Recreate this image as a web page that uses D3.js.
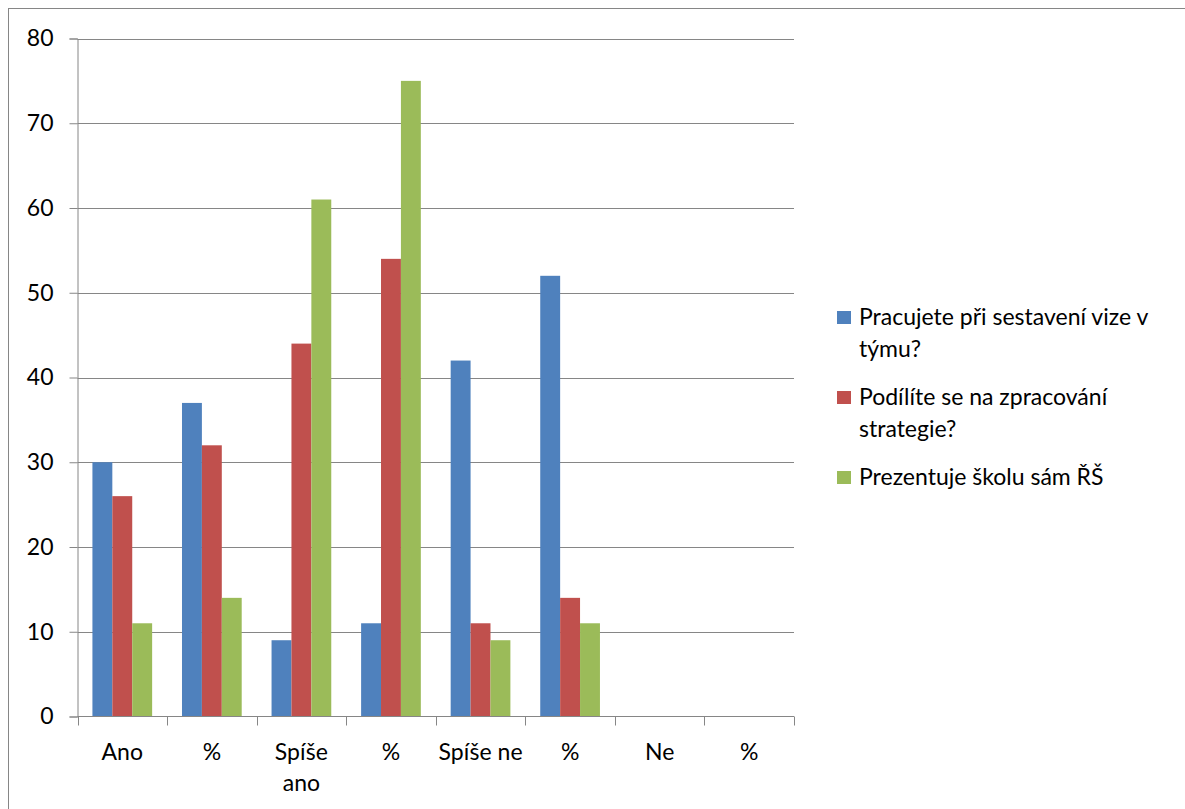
<!DOCTYPE html>
<html>
<head>
<meta charset="utf-8">
<script src="https://cdn.jsdelivr.net/npm/d3@7"></script>
<style>
  html, body { margin: 0; padding: 0; background: #fff; }
  svg text { font-family: Lato, "Open Sans", sans-serif; fill: #000; }
</style>
</head>
<body>
<svg id="chart" width="1185" height="809"></svg>
<script>
// Answer categories along the x axis
const categories = ["Ano", "%", "Spíše ano", "%", "Spíše ne", "%", "Ne", "%"];

// Series names (legend)
const seriesNames = [
  "Pracujete při sestavení vize v týmu?",
  "Podílíte se na zpracování strategie?",
  "Prezentuje školu sám ŘŠ"
];

// Values for each series, one per category
const vizeValues      = [30, 37, 9, 11, 42, 52, 0, 0];
const strategieValues = [26, 32, 44, 54, 11, 14, 0, 0];
const prezentujeValues = [11, 14, 61, 75, 9, 11, 0, 0];

const yTicks = [0, 10, 20, 30, 40, 50, 60, 70, 80];

const seriesValues = [vizeValues, strategieValues, prezentujeValues];
const colors = ["#4F81BD", "#C0504D", "#9BBB59"];

const FONT = 23;

const svg = d3.select("#chart");
const W = 1185, H = 809;

// Outer chart frame
svg.append("rect")
  .attr("x", 8.5).attr("y", 8.5)
  .attr("width", W).attr("height", H)
  .attr("fill", "#fff").attr("stroke", "#868686").attr("stroke-width", 1);

const plot = { left: 77.5, right: 794, top: 38.5, bottom: 716.5 };

const x0 = d3.scaleBand()
  .domain(d3.range(categories.length))
  .range([plot.left, plot.right])
  .paddingInner(0).paddingOuter(0);

const x1 = d3.scaleBand()
  .domain(d3.range(seriesValues.length))
  .range([0, x0.bandwidth()])
  .paddingInner(0)
  .paddingOuter(0.75);

const y = d3.scaleLinear().domain([0, 80]).range([plot.bottom, plot.top]);

// Horizontal gridlines
svg.append("g")
  .selectAll("line")
  .data(yTicks.filter(t => t > 0))
  .join("line")
  .attr("x1", plot.left).attr("x2", plot.right)
  .attr("y1", d => Math.round(y(d)) + 0.5).attr("y2", d => Math.round(y(d)) + 0.5)
  .attr("stroke", "#868686").attr("stroke-width", 1);

// Bars
const groups = svg.append("g")
  .selectAll("g")
  .data(categories.map((c, i) => i))
  .join("g")
  .attr("transform", i => `translate(${x0(i)},0)`);

groups.selectAll("rect")
  .data(i => seriesValues.map((vals, s) => ({ s, v: vals[i] })))
  .join("rect")
  .attr("x", d => x1(d.s))
  .attr("width", x1.bandwidth())
  .attr("y", d => y(d.v))
  .attr("height", d => y(0) - y(d.v))
  .attr("fill", d => colors[d.s]);

// Y axis
const yAxis = d3.axisLeft(y).tickValues(yTicks).tickSize(8).tickPadding(16).tickFormat(d3.format("d"));
const gy = svg.append("g")
  .attr("transform", `translate(${plot.left},0)`)
  .call(yAxis);
gy.select(".domain").attr("stroke", "#868686");
gy.selectAll(".tick line").attr("stroke", "#868686");
gy.selectAll(".tick text").style("font-size", FONT + "px").attr("fill", "#000");

// X axis: tick marks at category boundaries
const boundaries = d3.range(categories.length + 1).map(i => plot.left + i * x0.bandwidth());
svg.append("line")
  .attr("x1", plot.left).attr("x2", plot.right)
  .attr("y1", plot.bottom).attr("y2", plot.bottom)
  .attr("stroke", "#868686");
svg.append("g")
  .selectAll("line")
  .data(boundaries)
  .join("line")
  .attr("x1", d => Math.round(d) + 0.5).attr("x2", d => Math.round(d) + 0.5)
  .attr("y1", plot.bottom).attr("y2", plot.bottom + 9)
  .attr("stroke", "#868686");

// Category labels, wrapped to the band width
function wrapLines(text, maxWidth, fontSize) {
  const tmp = svg.append("text").style("font-size", fontSize + "px");
  const words = text.split(" ");
  const lines = [];
  let line = [];
  for (const w of words) {
    const trial = line.concat(w).join(" ");
    tmp.text(trial);
    if (line.length && tmp.node().getComputedTextLength() > maxWidth) {
      lines.push(line.join(" "));
      line = [w];
    } else {
      line.push(w);
    }
  }
  if (line.length) lines.push(line.join(" "));
  tmp.remove();
  return lines;
}

categories.forEach((c, i) => {
  const lines = wrapLines(c, 91, FONT);
  const t = svg.append("text")
    .attr("text-anchor", "middle")
    .style("font-size", FONT + "px")
    .attr("x", x0(i) + x0.bandwidth() / 2)
    .attr("y", 760);
  lines.forEach((l, k) => {
    t.append("tspan")
      .attr("x", x0(i) + x0.bandwidth() / 2)
      .attr("dy", k === 0 ? 0 : 31)
      .text(l);
  });
});

// Legend
const legend = svg.append("g").attr("transform", "translate(837,0)");
let ly = 325;
seriesNames.forEach((name, s) => {
  const lines = wrapLines(name, 322, FONT);
  legend.append("rect")
    .attr("x", 0).attr("y", ly - 14)
    .attr("width", 14).attr("height", 13)
    .attr("fill", colors[s]);
  const t = legend.append("text")
    .style("font-size", FONT + "px")
    .attr("x", 22).attr("y", ly);
  lines.forEach((l, k) => {
    t.append("tspan").attr("x", 22).attr("dy", k === 0 ? 0 : 32).text(l);
  });
  ly += lines.length * 32 + 16;
});
</script>
</body>
</html>
